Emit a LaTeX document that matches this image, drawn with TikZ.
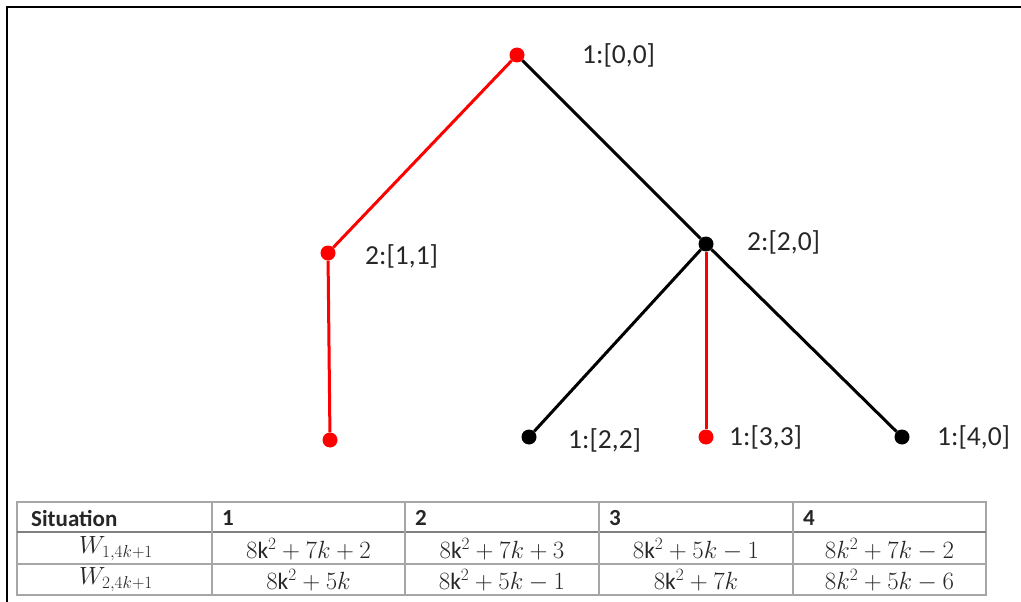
\documentclass[tikz,border=0pt]{standalone}
\usepackage{fontspec}
\setmainfont{Carlito}
\begin{document}
\begin{tikzpicture}[x=1pt, y=-1pt, every node/.style={font=\fontsize{27.5}{30}\selectfont, text=black!85},
  dot/.style={circle, fill=#1, inner sep=0pt, minimum size=15pt},
  edge/.style={line width=3pt, draw=#1},
  tag/.style={anchor=west, inner sep=0pt},
  rule/.style={draw=black!35, line width=1.4pt},
  cell/.style={font=\fontsize{23.5}{26}\selectfont, inner sep=0pt},
  head/.style={anchor=west, inner sep=0pt, font=\fontsize{23}{26}\selectfont\bfseries}]
  \useasboundingbox (0,0) rectangle (1021,602);
  \draw[line width=2.5pt] (7,602) -- (7,7) -- (1021,7);
  \node[dot=red] (root) at (517,55) {};
  \node[dot=red] (a) at (328,253) {};
  \node[dot=black] (b) at (706,244) {};
  \node[dot=red] (aa) at (330,440) {};
  \node[dot=black] (ba) at (529,437) {};
  \node[dot=red] (bb) at (706,437) {};
  \node[dot=black] (bc) at (902,437) {};
  \draw[edge=red] (root) -- (a);
  \draw[edge=black] (root) -- (b);
  \draw[edge=red] (a) -- (aa);
  \draw[edge=black] (b) -- (ba);
  \draw[edge=red] (b) -- (bb);
  \draw[edge=black] (b) -- (bc);
  \node[tag] (lroot) at (582,55) {1:[0,0]};
  \node[tag] (la) at (365,256) {2:[1,1]};
  \node[tag] (lb) at (747,242) {2:[2,0]};
  \node[tag] (lba) at (568,440) {1:[2,2]};
  \node[tag] (lbb) at (729,437) {1:[3,3]};
  \node[tag] (lbc) at (937,437) {1:[4,0]};
  \draw[rule] (17,502) rectangle (986,595);
  \draw[rule] (17,564) -- (986,564);
  \draw[draw=black!50, line width=2.6pt] (17,532) -- (986,532);
  \foreach \x in {212,405,599,793} \draw[rule] (\x,502) -- (\x,595);
  \node[head] (h0) at (31,518) {Situation};
  \foreach \x/\t in {222/1,415/2,609/3,803/4}
    \node[head] (h\t) at (\x,518) {\t};
  \node[cell] (w1) at (116,549) {$W_{1,4k+1}$};
  \node[cell] (w2) at (116,580) {$W_{2,4k+1}$};
  \foreach \x/\n/\a/\b in {308.5/1/{8\mathrm{k}^2 + 7k + 2}/{8\mathrm{k}^2 + 5k},
      502/2/{8\mathrm{k}^2 + 7k + 3}/{8\mathrm{k}^2 + 5k - 1},
      696/3/{8\mathrm{k}^2 + 5k - 1}/{8\mathrm{k}^2 + 7k},
      889.5/4/{8k^2 + 7k - 2}/{8k^2 + 5k - 6}} {
    \node[cell] (p\n) at (\x,549) {$\a$};
    \node[cell] (q\n) at (\x,580) {$\b$};
  }
\end{tikzpicture}
\end{document}
